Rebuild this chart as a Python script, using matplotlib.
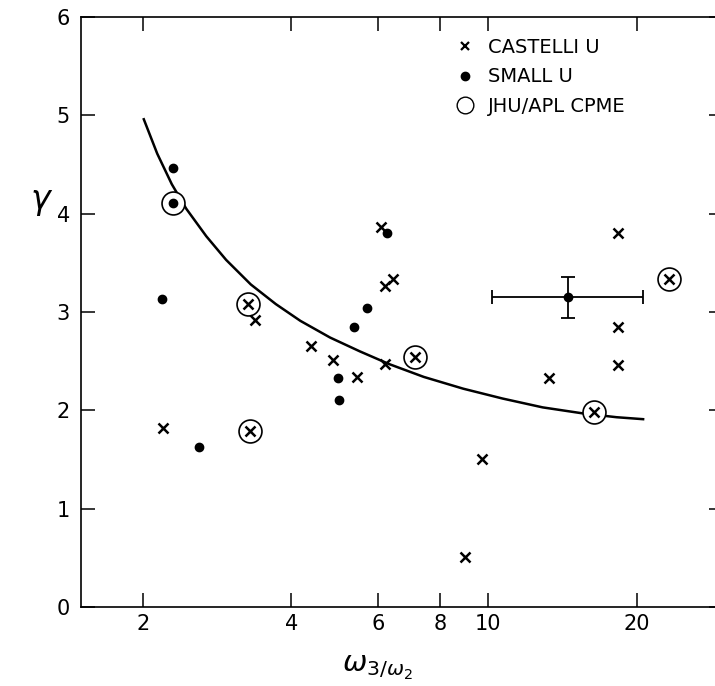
import numpy as np
import matplotlib.pyplot as plt
from matplotlib.lines import Line2D

# castelli u (x markers), includes the marks inside circles
castelli_x = [2.20, 3.27, 3.37, 3.29, 4.39, 4.85, 5.42, 6.18, 6.07, 6.18,
              6.41, 7.11, 9.71, 8.98, 13.3, 18.3, 18.3, 18.3, 23.2, 16.4]
castelli_y = [1.82, 3.08, 2.92, 1.79, 2.65, 2.51, 2.34, 2.47, 3.86, 3.26,
              3.34, 2.54, 1.51, 0.51, 2.33, 3.80, 2.85, 2.46, 3.34, 1.98]

# small u (dots)
small_x = [2.30, 2.30, 2.19, 2.60, 4.97, 4.99, 5.36, 5.70, 6.23]
small_y = [4.46, 4.11, 3.13, 1.63, 2.33, 2.11, 2.85, 3.04, 3.80]

# jhu/apl cpme (open circles)
jhu_x = [2.30, 3.27, 3.29, 7.11, 16.4, 23.2]
jhu_y = [4.11, 3.08, 1.79, 2.54, 1.98, 3.34]

# point with error bars
err_x, err_y = 14.5, 3.15
err_xlo, err_xhi = 10.2, 20.6
err_ylo, err_yhi = 2.94, 3.36

# drawn curve
curve_x = [2.01, 2.14, 2.29, 2.45, 2.69, 2.95, 3.31, 3.72, 4.17, 4.79,
           5.50, 6.31, 7.41, 8.91, 10.7, 12.9, 15.5, 18.2, 20.6]
curve_y = [4.96, 4.61, 4.30, 4.05, 3.77, 3.53, 3.28, 3.08, 2.91, 2.74,
           2.60, 2.47, 2.34, 2.22, 2.12, 2.03, 1.97, 1.93, 1.91]

xticks = [2, 4, 6, 8, 10, 20]
yticks = [0, 1, 2, 3, 4, 5, 6]

fig = plt.figure(figsize=(7.15, 6.86), dpi=100)
ax = fig.add_axes([81 / 715, 79 / 686, 634 / 715, 590 / 686])

ax.plot(curve_x, curve_y, color='black', lw=1.8, zorder=2)
ax.plot(jhu_x, jhu_y, 'o', mfc='white', mec='black', ms=16.5, mew=1.2, zorder=2.5)
ax.plot(castelli_x, castelli_y, 'x', color='black', ms=6.5, mew=1.8, zorder=3)
ax.plot(small_x, small_y, 'o', color='black', ms=6, zorder=3)
ax.errorbar([err_x], [err_y],
            xerr=[[err_x - err_xlo], [err_xhi - err_x]],
            yerr=[[err_y - err_ylo], [err_yhi - err_y]],
            fmt='o', color='black', ms=6, elinewidth=1.3, capsize=5,
            capthick=1.3, zorder=3)

ax.set_xscale('log')
ax.set_xlim(1.5, 28.8)
ax.set_ylim(0, 6)
ax.set_xticks(xticks)
ax.set_xticklabels([str(t) for t in xticks])
ax.xaxis.set_minor_locator(plt.NullLocator())
ax.set_yticks(yticks)

ax.tick_params(axis='x', which='major', direction='in', length=10, width=1.1,
               top=True, labelsize=15, pad=5)
ax.tick_params(axis='y', which='major', direction='in', length=10, width=1.1,
               labelsize=15, pad=8)
ax.tick_params(axis='y', which='major', right=True)
for t in ax.yaxis.get_major_ticks():
    t.tick2line.set_markersize(4)

for s in ['left', 'bottom', 'top']:
    ax.spines[s].set_linewidth(1.2)
ax.spines['right'].set_visible(False)

ax.set_xlabel(r'$\omega_{3/\omega_2}$', fontsize=21)
ax.xaxis.set_label_coords(0.468, -0.08)
ax.set_ylabel(r'$\gamma$', fontsize=24, rotation=0)
ax.yaxis.set_label_coords(-0.062, 0.66)

handles = [
    Line2D([], [], ls='none', marker='x', color='black', ms=5.5, mew=1.6),
    Line2D([], [], ls='none', marker='o', color='black', ms=6),
    Line2D([], [], ls='none', marker='o', mfc='white', mec='black', ms=12, mew=1.0),
]
ax.legend(handles, ['CASTELLI U', 'SMALL U', 'JHU/APL CPME'],
          loc='upper left', bbox_to_anchor=(0.59, 0.965), frameon=False,
          fontsize=14, handlelength=1.0, handletextpad=0.7,
          labelspacing=0.55, borderpad=0, borderaxespad=0)

fig.savefig('out.png', dpi=100)
